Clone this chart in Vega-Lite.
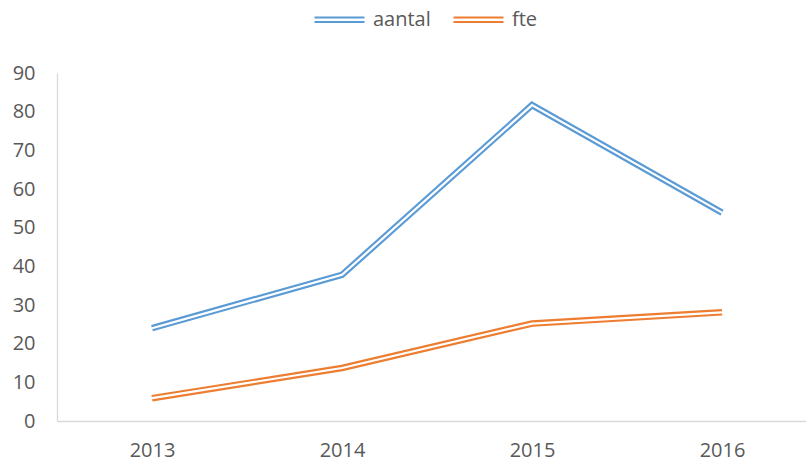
{
  "$schema": "https://vega.github.io/schema/vega-lite/v6.json",
  "width": 760,
  "height": 348,
  "autosize": {"type": "none"},
  "padding": {"left": 57, "top": 73, "right": 0, "bottom": 43},
  "background": "white",
  "config": {
    "view": {"stroke": null},
    "font": "Open Sans"
  },
  "data": {
    "values": [
      {"year": "2013", "series": "aantal", "value": 24},
      {"year": "2014", "series": "aantal", "value": 37.8},
      {"year": "2015", "series": "aantal", "value": 81.7},
      {"year": "2016", "series": "aantal", "value": 53.9},
      {"year": "2013", "series": "fte", "value": 5.9},
      {"year": "2014", "series": "fte", "value": 13.7},
      {"year": "2015", "series": "fte", "value": 25.2},
      {"year": "2016", "series": "fte", "value": 28.1}
    ]
  },
  "encoding": {
    "x": {
      "field": "year", "type": "ordinal",
      "scale": {"type": "point", "padding": 0.5},
      "axis": {
        "title": null, "labelAngle": 0, "labelFontSize": 20, "labelColor": "#595959",
        "domainColor": "#d9d9d9", "domainWidth": 1.3, "ticks": false, "labelPadding": 19, "grid": false
      }
    },
    "y": {
      "field": "value", "type": "quantitative",
      "scale": {"domain": [0, 90]},
      "axis": {
        "title": null, "values": [0,10,20,30,40,50,60,70,80,90], "labelFontSize": 20, "labelColor": "#595959",
        "domainColor": "#d9d9d9", "domainWidth": 1.3, "ticks": false, "labelPadding": 22, "grid": false
      }
    }
  },
  "layer": [
    {
      "mark": {"type": "line", "strokeWidth": 6.5, "strokeJoin": "miter"},
      "encoding": {
        "color": {
          "field": "series", "type": "nominal",
          "scale": {"domain": ["aantal", "fte"], "range": ["#5B9BD5", "#ED7D31"]},
          "legend": {
            "title": null, "orient": "none", "direction": "horizontal",
            "legendX": 256, "legendY": -80,
            "symbolType": "M-1,-0.09H1M-1,0.09H1", "symbolSize": 2500, "symbolStrokeWidth": 2.2,
            "labelFontSize": 20, "labelColor": "#595959", "labelOffset": 7, "columnPadding": 18
          }
        }
      }
    },
    {
      "mark": {"type": "line", "strokeWidth": 2.2, "color": "white", "strokeJoin": "miter"},
      "encoding": {"detail": {"field": "series"}}
    }
  ]
}
